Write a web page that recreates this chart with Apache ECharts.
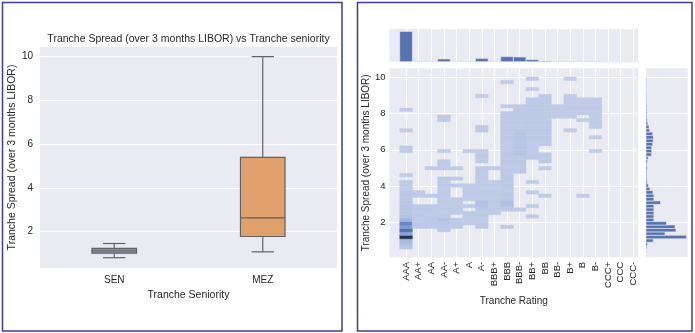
<!DOCTYPE html>
<html><head><meta charset="utf-8">
<script src="https://cdn.jsdelivr.net/npm/echarts@6/dist/echarts.min.js"></script>
<style>html,body{margin:0;padding:0;background:#fff}#c{width:695px;height:333px}</style>
</head><body><div id="c"></div>
<script>
// ---------- Left panel: box plot ----------
const seniority = ['SEN', 'MEZ'];
const boxMin    = [0.80, 1.07];
const boxQ1     = [1.01, 1.77];
const boxMedian = [1.12, 2.62];
const boxQ3     = [1.23, 5.39];
const boxMax    = [1.45, 10.0];

// ---------- Right panel: joint histogram ----------
const ratings = ['AAA','AA+','AA','AA-','A+','A','A-','BBB+','BBB','BBB-','BB+','BB','BB-','B+','B','B-','CCC+','CCC','CCC-'];
const spreadTicks = [2, 4, 6, 8, 10];
const binStart = 0.55;
const binWidth = 0.189;
// AAA column counts, bins 0..19
const aaaBins = [8,20,25,115,45,80,50,65,30,12,10,10,10,8,6,6,5,4,3,3];
// [rating index, first bin, last bin, count]
const heatRuns = [
  [0,21,21,2],[0,28,29,3],[0,34,34,2],[0,40,40,2],
  [1,15,16,4],[1,6,12,5],
  [2,23,23,2],[2,15,15,3],[2,6,12,5],
  [3,37,38,3],[3,28,28,2],[3,24,25,3],[3,23,23,2],[3,9,20,4],[3,8,8,14],[3,7,7,8],[3,5,6,5],
  [4,23,23,2],[4,20,20,2],[4,18,18,2],[4,10,14,4],[4,6,8,5],
  [5,28,28,2],[5,14,18,3],[5,12,12,4],[5,7,10,4],
  [6,44,44,2],[6,34,35,3],[6,25,28,3],[6,14,23,4],[6,12,13,14],[6,6,11,5],
  [7,23,23,2],[7,10,19,4],
  [8,48,48,2],[8,41,41,2],[8,16,39,5],[8,14,15,7],[8,12,13,16],[8,11,11,5],[8,6,6,2],
  [9,34,41,5],[9,27,33,10],[9,22,26,5],[9,11,11,3],
  [10,49,49,2],[10,46,46,2],[10,26,43,5],[10,19,19,2],[10,16,16,2],[10,12,12,2],[10,9,9,2],
  [11,30,44,5],[11,25,27,4],[11,23,23,2],[11,15,15,2],
  [12,38,41,2],
  [13,49,49,1],[13,38,44,2],[13,34,34,1],
  [14,39,43,2],[14,37,37,1],[14,15,15,1],
  [15,35,43,2],[15,32,32,1],[15,28,28,1]
];
// marginal counts
const ratingTotals = [620,4,4,56,5,4,68,5,103,97,41,14,3,4,3,4,0,0,0];
const spreadTotals = [3,5,24,134,63,99,96,68,26,26, 26,26,26,48,26,26,23,13,8,4,
                      3,3,3,4,3,5,7,18,19,19, 22,24,24,22,12,10,6,4,3,3,
                      3,3,2,2,2,1,1,1,1,1];

// ---------- build ----------
const FONT = "'Liberation Sans', Arial, sans-serif";
const TXT = '#262626';
const BG = '#eaeaf2';
const boxFill = ['#8298bb', '#dfa06b'];
const boxLine = '#626262';

const boxData = seniority.map((s, i) => [i, boxMin[i], boxQ1[i], boxMedian[i], boxQ3[i], boxMax[i]]);

const heatCells = [];
aaaBins.forEach((n, r) => heatCells.push([0, r, n]));
heatRuns.forEach(([c, r0, r1, n]) => { for (let r = r0; r <= r1; r++) heatCells.push([c, r, n]); });
const heatData = heatCells.map(([c, r, n]) => [c, binStart + r * binWidth, binStart + (r + 1) * binWidth, n]);
const topData = ratingTotals.map((n, i) => [i, n]);
const rightData = spreadTotals.map((n, r) => [n, binStart + r * binWidth, binStart + (r + 1) * binWidth]);
const ratingIdx = ratings.map((r, i) => i);

function renderBox(params, api) {
  const c = api.value(0);
  const x = api.coord([c, 0])[0];
  const y = v => api.coord([c, v])[1];
  const yMin = y(api.value(1)), yQ1 = y(api.value(2)), yMed = y(api.value(3)), yQ3 = y(api.value(4)), yMax = y(api.value(5));
  const bw = api.size([1, 0])[0] * 0.3;
  const ls = { stroke: boxLine, lineWidth: 1.2, fill: null };
  return { type: 'group', children: [
    { type: 'line', shape: { x1: x, y1: yMin, x2: x, y2: yQ1 }, style: ls },
    { type: 'line', shape: { x1: x, y1: yQ3, x2: x, y2: yMax }, style: ls },
    { type: 'line', shape: { x1: x - bw / 4, y1: yMin, x2: x + bw / 4, y2: yMin }, style: ls },
    { type: 'line', shape: { x1: x - bw / 4, y1: yMax, x2: x + bw / 4, y2: yMax }, style: ls },
    { type: 'rect', shape: { x: x - bw / 2, y: yQ3, width: bw, height: yQ1 - yQ3 }, style: { fill: boxFill[params.dataIndex], stroke: boxLine, lineWidth: 1.2 } },
    { type: 'line', shape: { x1: x - bw / 2, y1: yMed, x2: x + bw / 2, y2: yMed }, style: ls }
  ]};
}
function renderHeat(params, api) {
  const c = api.value(0);
  const p1 = api.coord([c - 0.5, api.value(2)]);
  const p2 = api.coord([c + 0.5, api.value(1)]);
  const col = api.visual('color');
  return { type: 'rect', shape: { x: p1[0], y: p1[1], width: p2[0] - p1[0], height: p2[1] - p1[1] },
           style: { fill: col, stroke: col, lineWidth: 0.4 } };
}
function renderTop(params, api) {
  const i = api.value(0);
  const p1 = api.coord([i - 0.5, api.value(1)]);
  const p2 = api.coord([i + 0.5, 0]);
  return { type: 'rect', shape: { x: p1[0], y: p1[1], width: p2[0] - p1[0], height: p2[1] - p1[1] },
           style: { fill: '#5874b0', stroke: BG, lineWidth: 0.6 } };
}
function renderRight(params, api) {
  const p1 = api.coord([0, api.value(2)]);
  const p2 = api.coord([api.value(0), api.value(1)]);
  return { type: 'rect', shape: { x: p1[0], y: p1[1], width: p2[0] - p1[0], height: p2[1] - p1[1] },
           style: { fill: '#5874b0', stroke: BG, lineWidth: 0.6 } };
}

const gridBase = { show: true, backgroundColor: BG, borderWidth: 0, containLabel: false, outerBoundsMode: 'none' };
const noLine = { show: false };
const whiteSplit = { show: true, lineStyle: { color: '#ffffff', width: 1 } };
const labelStyle = { color: TXT, fontFamily: FONT };

const option = {
  animation: false,
  backgroundColor: '#ffffff',
  textStyle: { fontFamily: FONT },
  grid: [
    Object.assign({ left: 40, top: 47, width: 297, height: 221 }, gridBase),
    Object.assign({ left: 389.5, top: 29, width: 248.5, height: 32.7 }, gridBase),
    Object.assign({ left: 389.5, top: 68.3, width: 248.5, height: 189 }, gridBase),
    Object.assign({ left: 646, top: 68.3, width: 41.7, height: 189 }, gridBase)
  ],
  xAxis: [
    { type: 'category', gridIndex: 0, data: seniority, boundaryGap: true,
      axisLine: noLine, axisTick: noLine, splitLine: { show: false },
      axisLabel: Object.assign({ fontSize: 10, margin: 7 }, labelStyle),
      name: 'Tranche Seniority', nameLocation: 'middle', nameGap: 17.5,
      nameTextStyle: { fontSize: 10.5, color: TXT, fontFamily: FONT, verticalAlign: 'top' } },
    { type: 'value', gridIndex: 1, min: -1.31, max: 18.37,
      axisLine: noLine, axisTick: { show: false, customValues: ratingIdx },
      axisLabel: { show: false, customValues: ratingIdx }, splitLine: whiteSplit },
    { type: 'value', gridIndex: 2, min: -1.31, max: 18.37,
      axisLine: noLine, axisTick: { show: false, customValues: ratingIdx },
      axisLabel: Object.assign({ customValues: ratingIdx, formatter: v => ratings[Math.round(v)] || '', rotate: 90, fontSize: 9.5, margin: 4.5 }, labelStyle),
      splitLine: whiteSplit,
      name: 'Tranche Rating', nameLocation: 'middle', nameGap: 33,
      nameTextStyle: { fontSize: 10, color: TXT, fontFamily: FONT, verticalAlign: 'top' } },
    { type: 'value', gridIndex: 3, min: 0, max: 138,
      axisLine: noLine, axisTick: noLine, axisLabel: { show: false }, splitLine: { show: false } }
  ],
  yAxis: [
    { type: 'value', gridIndex: 0, min: 0.33, max: 10.44,
      axisLine: noLine, axisTick: { show: false, customValues: spreadTicks },
      axisLabel: Object.assign({ customValues: spreadTicks, fontSize: 10, margin: 7 }, labelStyle),
      splitLine: whiteSplit,
      name: 'Tranche Spread (over 3 months LIBOR)', nameLocation: 'middle', nameGap: 21,
      nameTextStyle: { fontSize: 10.5, color: TXT, fontFamily: FONT } },
    { type: 'value', gridIndex: 1, min: 0, max: 670,
      axisLine: noLine, axisTick: noLine, axisLabel: { show: false }, splitLine: { show: false } },
    { type: 'value', gridIndex: 2, min: 0.1, max: 10.48,
      axisLine: noLine, axisTick: { show: false, customValues: spreadTicks },
      axisLabel: Object.assign({ customValues: spreadTicks, fontSize: 9.5, margin: 4 }, labelStyle),
      splitLine: whiteSplit,
      name: 'Tranche Spread (over 3 months LIBOR)', nameLocation: 'middle', nameGap: 18.5,
      nameTextStyle: { fontSize: 10, color: TXT, fontFamily: FONT } },
    { type: 'value', gridIndex: 3, min: 0.1, max: 10.48,
      axisLine: noLine, axisTick: { show: false, customValues: spreadTicks },
      axisLabel: { show: false, customValues: spreadTicks }, splitLine: whiteSplit }
  ],
  visualMap: {
    type: 'continuous', show: false, seriesIndex: 2, dimension: 3, min: 0, max: 115,
    inRange: { color: ['#c2cde7', '#a3b7e0', '#7393d1', '#4a68a8', '#26324f'] }
  },
  graphic: [
    { type: 'rect', shape: { x: 2.5, y: 2.5, width: 339.5, height: 328.5 }, style: { fill: null, stroke: '#3d3f8c', lineWidth: 1.5 }, silent: true },
    { type: 'rect', shape: { x: 357.5, y: 2.5, width: 334.5, height: 328.5 }, style: { fill: null, stroke: '#3d3f8c', lineWidth: 1.5 }, silent: true },
    { type: 'text', x: 188.5, y: 39, style: { text: 'Tranche Spread (over 3 months LIBOR) vs Tranche seniority', align: 'center', verticalAlign: 'middle', fontSize: 10.5, fill: TXT, fontFamily: FONT }, silent: true }
  ],
  series: [
    { type: 'custom', xAxisIndex: 0, yAxisIndex: 0, renderItem: renderBox, data: boxData, encode: { x: 0, y: [1, 2, 3, 4, 5] } },
    { type: 'custom', xAxisIndex: 1, yAxisIndex: 1, renderItem: renderTop, data: topData, encode: { x: 0, y: 1 } },
    { type: 'custom', xAxisIndex: 2, yAxisIndex: 2, renderItem: renderHeat, data: heatData, encode: { x: 0, y: [1, 2] } },
    { type: 'custom', xAxisIndex: 3, yAxisIndex: 3, renderItem: renderRight, data: rightData, encode: { x: 0, y: [1, 2] } }
  ]
};
const chart = echarts.init(document.getElementById('c'), null, { renderer: 'canvas' });
chart.setOption(option);
</script>
</body></html>
